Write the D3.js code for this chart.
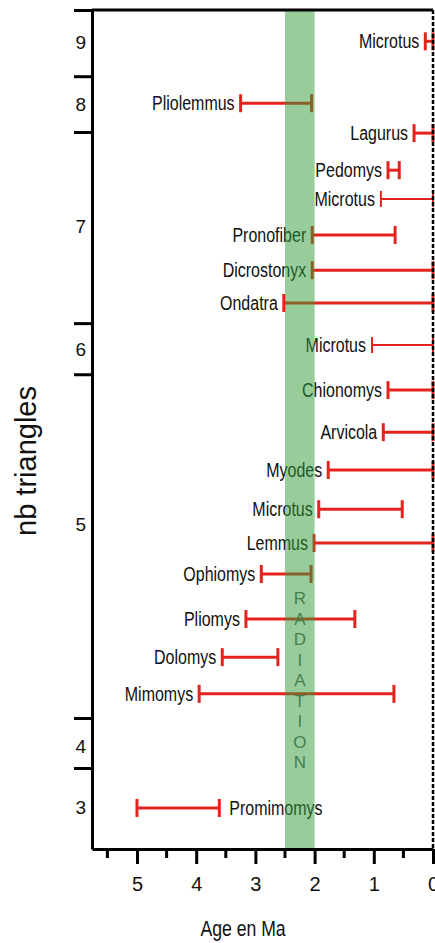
<!DOCTYPE html>
<html>
<head>
<meta charset="utf-8">
<script src="https://cdn.jsdelivr.net/npm/d3@7"></script>
<style>
  body { margin: 0; background: #fff; }
  svg { display: block; }
</style>
</head>
<body>
<div id="chart"></div>
<script>
// taxa, one row each, top to bottom
const taxa = ["Microtus", "Pliolemmus", "Lagurus", "Pedomys", "Microtus", "Pronofiber",
    "Dicrostonyx", "Ondatra", "Microtus", "Chionomys", "Arvicola", "Myodes", "Microtus",
    "Lemmus", "Ophiomys", "Pliomys", "Dolomys", "Mimomys", "Promimomys"];
const triangles = [9, 8, 7, 7, 7, 7, 7, 7, 6, 5, 5, 5, 5, 5, 5, 5, 5, 5, 3];
// age range in Ma (oldest -> youngest)
const oldest = [0.13, 3.25, 0.32, 0.76, 0.88, 2.04, 2.04, 2.52, 1.03, 0.76, 0.84, 1.77, 1.93,
    2.01, 2.90, 3.16, 3.56, 3.95, 5.00];
const youngest = [0, 2.05, 0, 0.57, 0, 0.64, 0, 0, 0, 0, 0, 0, 0.52, 0, 2.06, 1.32, 2.62, 0.66, 3.61];
// vertical row position (row units from bottom)
const rowPos = [22.44, 20.72, 19.89, 18.86, 18.06, 17.06, 16.08, 15.17, 14.0, 12.75, 11.58,
    10.53, 9.44, 8.5, 7.64, 6.39, 5.33, 4.31, 1.14];

// nb triangles groups on the y axis
const groupLabels = ["9", "8", "7", "6", "5", "4", "3"];
const groupLabelPos = [22.42, 20.69, 17.3, 13.89, 9.03, 2.86, 1.17];
const groupBounds = [23.31, 21.47, 19.92, 14.61, 13.19, 3.64, 2.25];

// x axis
const majorTicks = [5, 4, 3, 2, 1, 0];
const minorTicks = [5.5, 4.5, 3.5, 2.5, 1.5, 0.5];
const radiation = [2.5, 2.0];
const radiationText = "RADIATION";

const width = 435, height = 943;
const red = "#e5231d";
const font = "'Liberation Sans', Arial, sans-serif";
const squeeze = 0.82; // no narrow font installed, so condense the sans by hand

const svg = d3.select("#chart").append("svg")
    .attr("width", width)
    .attr("height", height);

const x = d3.scaleLinear().domain([5.76, 0]).range([92, 433]);
const y = d3.scaleLinear().domain([0, 23.31]).range([849, 10]);

const rows = taxa.map((name, i) => ({
    name, tri: triangles[i], from: oldest[i], to: youngest[i], pos: rowPos[i], i
}));
const thin = new Set([4, 8]);
const labelRight = new Set([18]);

// bars
const bar = svg.append("g").selectAll("g")
    .data(rows)
    .join("g")
    .attr("stroke", red)
    .attr("stroke-width", d => thin.has(d.i) ? 2 : 3);

bar.append("line")
    .attr("x1", d => x(d.from))
    .attr("x2", d => x(d.to))
    .attr("y1", d => y(d.pos))
    .attr("y2", d => y(d.pos));

bar.selectAll("line.cap")
    .data(d => [d.from, d.to].map(v => ({ v, d })))
    .join("line")
    .attr("class", "cap")
    .attr("x1", c => x(c.v))
    .attr("x2", c => x(c.v))
    .attr("y1", c => y(c.d.pos) - (thin.has(c.d.i) ? 8 : 9))
    .attr("y2", c => y(c.d.pos) + (thin.has(c.d.i) ? 8 : 9));

// labels
svg.append("g").selectAll("text")
    .data(rows)
    .join("text")
    .attr("transform", d => {
        const lx = labelRight.has(d.i) ? x(d.to) + 10 : x(d.from) - 6;
        return `translate(${lx},${y(d.pos)}) scale(${squeeze},1)`;
    })
    .attr("dy", "0.35em")
    .attr("text-anchor", d => labelRight.has(d.i) ? "start" : "end")
    .attr("font-family", font)
    .attr("font-size", 19.5)
    .attr("fill", "#111")
    .text(d => d.name);

// radiation band, drawn over the bars
svg.append("rect")
    .attr("x", x(radiation[0]))
    .attr("width", x(radiation[1]) - x(radiation[0]))
    .attr("y", y(23.31))
    .attr("height", y(0) - y(23.31))
    .attr("fill", "rgb(50,155,55)")
    .attr("opacity", 0.5);

svg.append("g").selectAll("text")
    .data(radiationText.split(""))
    .join("text")
    .attr("x", (x(radiation[0]) + x(radiation[1])) / 2)
    .attr("y", (d, i) => 604 + i * 20.5)
    .attr("text-anchor", "middle")
    .attr("font-family", font)
    .attr("font-size", 17)
    .attr("fill", "#447f4e")
    .text(d => d);

// y axis
const yAxis = svg.append("g")
    .attr("transform", `translate(${x.range()[0]},0)`)
    .call(d3.axisLeft(y).tickValues(groupBounds).tickSize(18).tickSizeOuter(0).tickFormat(""));
yAxis.selectAll("path, line").attr("stroke", "#000").attr("stroke-width", 3);

svg.append("g").selectAll("text")
    .data(groupLabels)
    .join("text")
    .attr("x", 86)
    .attr("y", (d, i) => y(groupLabelPos[i]))
    .attr("dy", "0.35em")
    .attr("text-anchor", "end")
    .attr("font-family", font)
    .attr("font-size", 19)
    .attr("fill", "#111")
    .text(d => d);

// top border
svg.append("line")
    .attr("x1", x.range()[0])
    .attr("x2", x.range()[1])
    .attr("y1", y(23.31))
    .attr("y2", y(23.31))
    .attr("stroke", "#000")
    .attr("stroke-width", 3);

// dotted line at 0 Ma
svg.append("line")
    .attr("x1", x(0))
    .attr("x2", x(0))
    .attr("y1", y(23.31))
    .attr("y2", y(0))
    .attr("stroke", "#000")
    .attr("stroke-width", 2.5)
    .attr("stroke-dasharray", "4,2");

// x axis
const xAxis = svg.append("g")
    .attr("transform", `translate(0,${y(0)})`)
    .call(d3.axisBottom(x).tickValues(majorTicks).tickSize(15).tickSizeOuter(0)
        .tickPadding(13).tickFormat(d3.format("d")));
xAxis.selectAll("path, line").attr("stroke", "#000").attr("stroke-width", 3);
xAxis.selectAll("text")
    .attr("font-family", font)
    .attr("font-size", 20)
    .attr("fill", "#111");

svg.append("g")
    .attr("transform", `translate(0,${y(0)})`)
    .selectAll("line")
    .data(minorTicks)
    .join("line")
    .attr("x1", d => x(d))
    .attr("x2", d => x(d))
    .attr("y1", 0)
    .attr("y2", 9)
    .attr("stroke", "#000")
    .attr("stroke-width", 3);

// axis titles
svg.append("text")
    .attr("transform", `translate(243,936) scale(${squeeze},1)`)
    .attr("text-anchor", "middle")
    .attr("font-family", font)
    .attr("font-size", 21.5)
    .attr("fill", "#111")
    .text("Age en Ma");

svg.append("text")
    .attr("transform", "translate(36,461) rotate(-90)")
    .attr("text-anchor", "middle")
    .attr("font-family", font)
    .attr("font-size", 29)
    .attr("fill", "#111")
    .text("nb triangles");
</script>
</body>
</html>
